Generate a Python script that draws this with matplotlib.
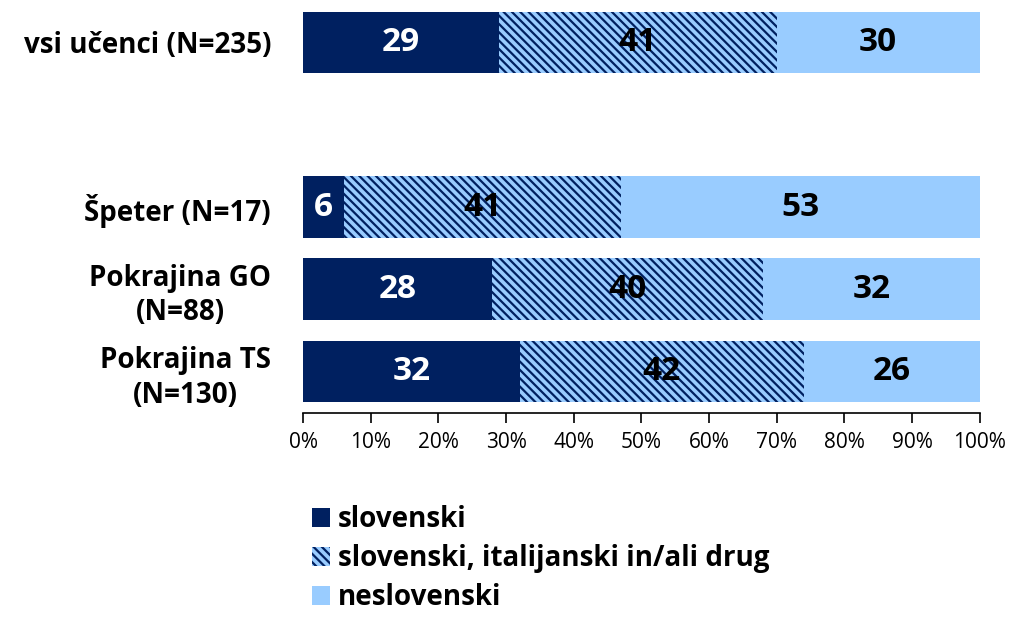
import numpy as np
import matplotlib
matplotlib.use("Agg")
import matplotlib.pyplot as plt
from matplotlib.patches import Patch

plt.rcParams['font.family'] = ['Open Sans', 'DejaVu Sans']
plt.rcParams['hatch.linewidth'] = 1.6

# data
categories = ["vsi učenci (N=235)", "", "Špeter (N=17)",
               "Pokrajina GO\n(N=88)", "Pokrajina TS\n(N=130)"]
slovenski = [29, 0, 6, 28, 32]
mesano = [41, 0, 41, 40, 42]
neslovenski = [30, 0, 53, 32, 26]
series_names = ["slovenski", "slovenski, italijanski in/ali drug", "neslovenski"]
xticks = np.arange(0, 101, 10)

dark = "#002060"
light = "#99CCFF"
hatch = "\\\\\\\\"

fig = plt.figure(figsize=(10.1, 6.17), dpi=100)
ax = fig.add_axes([0.3, 0.331, 0.67, 0.667])

y = np.arange(len(categories))
h = 0.75
show = [i for i in y if categories[i] != ""]

s = np.array(slovenski)
m = np.array(mesano)
n = np.array(neslovenski)

ax.barh(y[show], s[show], height=h, color=dark, linewidth=0)
ax.barh(y[show], m[show], left=s[show], height=h, color=light,
        edgecolor=dark, hatch=hatch, linewidth=0)
ax.barh(y[show], n[show], left=(s + m)[show], height=h, color=light, linewidth=0)

for i in show:
    ax.text(s[i] / 2, i, str(s[i]), ha="center", va="center", color="white",
            fontsize=24, fontweight="bold")
    ax.text(s[i] + m[i] / 2, i, str(m[i]), ha="center", va="center", color="black",
            fontsize=24, fontweight="bold")
    ax.text(s[i] + m[i] + n[i] / 2, i, str(n[i]), ha="center", va="center", color="black",
            fontsize=24, fontweight="bold")

ax.set_xlim(0, 100)
ax.set_ylim(len(categories) - 0.5, -0.5)
ax.set_xticks(xticks)
ax.set_xticklabels([f"{v}%" for v in xticks], fontsize=15)
ax.set_yticks(y)
ax.set_yticklabels(categories, fontsize=20, fontweight="bold")
for lbl in ax.get_yticklabels():
    lbl.set_multialignment("center")
    lbl.set_linespacing(1.25)
ax.tick_params(axis="y", length=0, pad=23)
ax.tick_params(axis="x", length=7, direction="out", width=1.2, pad=7)
for sp in ["top", "right", "left"]:
    ax.spines[sp].set_visible(False)
ax.spines["bottom"].set_linewidth(1.2)

handles = [Patch(facecolor=dark, linewidth=0),
           Patch(facecolor=light, edgecolor=dark, hatch=hatch, linewidth=0),
           Patch(facecolor=light, linewidth=0)]
fig.legend(handles, series_names, loc="upper left", bbox_to_anchor=(0.295, 0.204),
           frameon=False, prop={"size": 20, "weight": "bold"}, borderpad=0,
           handlelength=0.65, handleheight=0.65, handletextpad=0.3, labelspacing=0.36)

fig.savefig("out.png", dpi=100)
